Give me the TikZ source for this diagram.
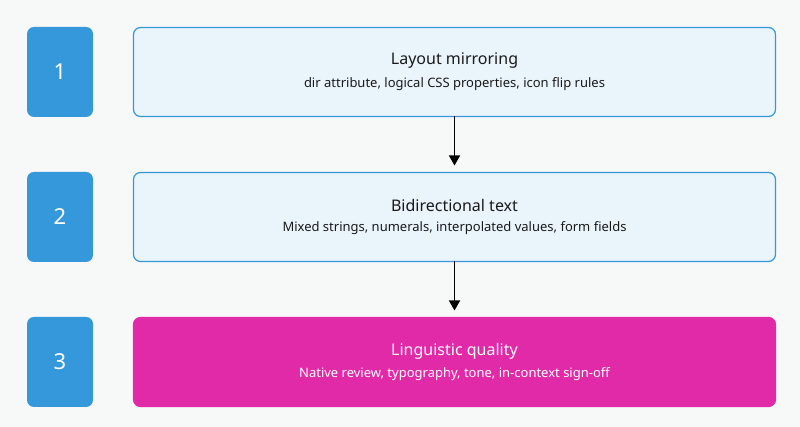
\documentclass[tikz,border=0pt]{standalone}
\usepackage{fontspec}
\setmainfont{Noto Sans}
\usepackage{tikz}
\usetikzlibrary{positioning,arrows.meta}
\definecolor{pageBg}{HTML}{F7F8F8}
\definecolor{stepBlue}{HTML}{3498DB}
\definecolor{stepFill}{HTML}{EAF4FB}
\definecolor{stepPink}{HTML}{E02AA8}
\definecolor{txtDark}{HTML}{1A1A1A}

\begin{document}
\begin{tikzpicture}[x=1pt,y=1pt,
num/.style={rectangle, rounded corners=7pt, fill=stepBlue, text=white, minimum width=66pt, minimum height=90pt, font=\fontsize{22}{26}\selectfont\bfseries, outer sep=0},
box/.style={rectangle, rounded corners=7pt, draw=stepBlue, line width=1.2pt, fill=stepFill, text=txtDark, minimum width=642pt, minimum height=89pt, align=center, outer sep=0},
hot/.style={box, draw=stepPink, fill=stepPink, text=white},
flow/.style={-{Triangle[length=10pt,width=11pt]}, line width=1.6pt, black}
]
\fill[pageBg] (0,0) rectangle (800,427);
\useasboundingbox (0,0) rectangle (800,427);

\node[num] (N1) at (60,355) {1};
\node[num, below=55pt of N1] (N2) {2};
\node[num, below=55pt of N2] (N3) {3};

\node[box] (B1) at (454.5,355) {{\fontsize{16}{20}\selectfont\bfseries Layout mirroring}\\[8pt]{\fontsize{13}{16}\selectfont dir attribute, logical CSS properties, icon flip rules}};
\node[box] (B2) at (454.5,210) {{\fontsize{16}{20}\selectfont\bfseries Bidirectional text}\\[8pt]{\fontsize{13}{16}\selectfont Mixed strings, numerals, interpolated values, form fields}};
\node[hot] (B3) at (454.5,65) {{\fontsize{16}{20}\selectfont\bfseries Linguistic quality}\\[8pt]{\fontsize{13}{16}\selectfont Native review, typography, tone, in-context sign-off}};

\draw[flow] (B1) -- ([yshift=7pt]B2.north);
\draw[flow] (B2) -- ([yshift=7pt]B3.north);
\end{tikzpicture}
\end{document}
